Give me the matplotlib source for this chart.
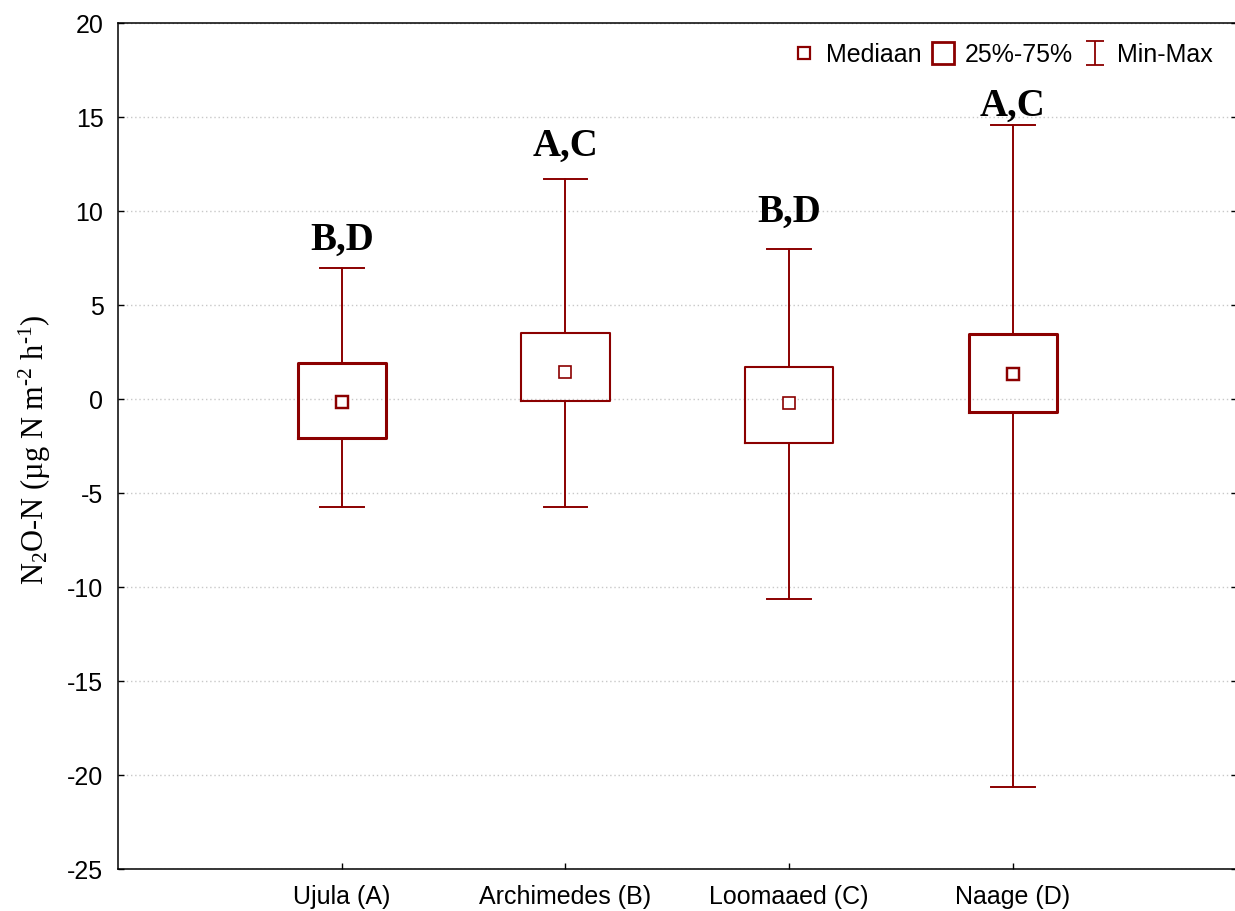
import matplotlib
matplotlib.use("Agg")
import matplotlib.pyplot as plt
from matplotlib.lines import Line2D
from matplotlib.path import Path
import numpy as np

# ---- data ----
categories = ['Ujula (A)', 'Archimedes (B)', 'Loomaaed (C)', 'Naage (D)']
medians = [-0.13, 1.45, -0.21, 1.33]
q1 = [-2.07, -0.09, -2.34, -0.68]
q3 = [1.91, 3.54, 1.73, 3.47]
mins = [-5.71, -5.73, -10.64, -20.6]
maxs = [7.0, 11.72, 8.01, 14.6]
letters = ['B,D', 'A,C', 'B,D', 'A,C']
yticks = [-25, -20, -15, -10, -5, 0, 5, 10, 15, 20]

# ---- style ----
RED = '#8B0000'
box_lw = [2.2, 1.5, 1.5, 2.2]
letter_offset_px = [18, 23, 27, 9]

plt.rcParams['font.family'] = ['Liberation Sans', 'DejaVu Sans']
plt.rcParams['mathtext.fontset'] = 'custom'
plt.rcParams['mathtext.rm'] = 'Liberation Serif'
plt.rcParams['mathtext.it'] = 'Liberation Serif:italic'
plt.rcParams['mathtext.bf'] = 'Liberation Serif:bold'

W, H = 1235, 911
fig = plt.figure(figsize=(W / 100, H / 100), dpi=100)
ax = fig.add_axes([118 / W, 1 - 869.3 / H, (1236.5 - 118) / W, (869.3 - 23.3) / H])

positions = np.arange(len(categories))
stats = []
for i in range(len(categories)):
    stats.append(dict(med=medians[i], q1=q1[i], q3=q3[i],
                      whislo=mins[i], whishi=maxs[i], fliers=[]))

res = ax.bxp(stats, positions=positions, widths=0.395, capwidths=0.195,
             showfliers=False,
             boxprops=dict(color=RED, linewidth=1.5),
             whiskerprops=dict(color=RED, linewidth=1.4),
             capprops=dict(color=RED, linewidth=1.4),
             medianprops=dict(linewidth=0),
             manage_ticks=False, zorder=3)
for b, lw in zip(res['boxes'], box_lw):
    b.set_linewidth(lw)

for x, m, lw in zip(positions, medians, box_lw):
    ax.plot([x], [m], ls='none', marker='s', markersize=8.5,
            markerfacecolor='white', markeredgecolor=RED,
            markeredgewidth=lw * 0.8, zorder=4)

for x, top, lab, off in zip(positions, maxs, letters, letter_offset_px):
    ax.annotate(lab, xy=(x, top), xytext=(0, off * 0.72), textcoords='offset points',
                ha='center', va='baseline', fontsize=28, fontweight='bold',
                family=['Liberation Serif'], color='black', zorder=5)

ax.set_xlim(-1, 4)
ax.set_ylim(-25, 20)
ax.set_yticks(yticks)
ax.set_yticklabels([str(t) for t in yticks])
ax.set_xticks(positions)
ax.set_xticklabels(categories)
ax.tick_params(axis='both', direction='in', length=4, width=1.0, labelsize=18)
ax.tick_params(axis='y', left=True, right=True, pad=10.5)
ax.tick_params(axis='x', top=False, bottom=True, pad=11)
for s in ax.spines.values():
    s.set_linewidth(1.1)
    s.set_color('black')

ax.yaxis.grid(True, linestyle=(0, (1, 2)), color='#c8c8c8', linewidth=1.0, zorder=0)
ax.set_axisbelow(True)

fig.text(35 / W, 1 - 450 / H,
         'N$_{\\mathrm{2}}$O-N (µg N m$^{\\mathrm{\u20102}}$ h$^{\\mathrm{\u20101}}$)',
         rotation=90, ha='center', va='center', fontsize=22,
         family=['Liberation Serif'])

# legend
ibeam = Path([(-0.4, 0.5), (0.4, 0.5), (0, 0.5), (0, -0.5), (-0.4, -0.5), (0.4, -0.5)],
             [Path.MOVETO, Path.LINETO, Path.MOVETO, Path.LINETO, Path.MOVETO, Path.LINETO])
handles = [
    Line2D([], [], ls='none', marker='s', markersize=8.5, markerfacecolor='white',
           markeredgecolor=RED, markeredgewidth=1.6),
    Line2D([], [], ls='none', marker='s', markersize=16, markerfacecolor='white',
           markeredgecolor=RED, markeredgewidth=2.0),
    Line2D([], [], ls='none', marker=ibeam, markersize=17, markerfacecolor='none',
           markeredgecolor=RED, markeredgewidth=1.3),
]
fig.legend(handles, ['Mediaan', '25%-75%', 'Min-Max'], loc='center right',
           bbox_to_anchor=(1213 / W, 1 - 55 / H), bbox_transform=fig.transFigure,
           ncol=3, frameon=False, fontsize=18, handlelength=1.0,
           handletextpad=0.38, columnspacing=0.38, borderpad=0, borderaxespad=0)

fig.savefig('out.png', dpi=100)
